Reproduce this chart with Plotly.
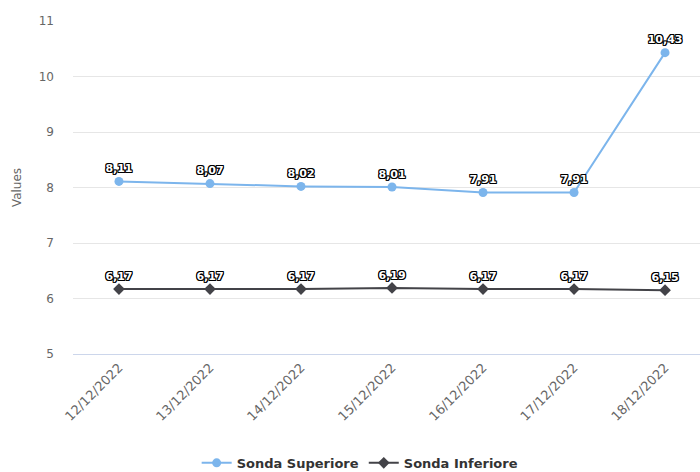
import plotly.graph_objects as go

dates = ["12/12/2022", "13/12/2022", "14/12/2022", "15/12/2022",
         "16/12/2022", "17/12/2022", "18/12/2022"]
sonda_superiore = [8.11, 8.07, 8.02, 8.01, 7.91, 7.91, 10.43]
sonda_inferiore = [6.17, 6.17, 6.17, 6.19, 6.17, 6.17, 6.15]

FONT = "DejaVu Sans, Verdana, sans-serif"
outline = ("1px 1px 0 #000, -1px -1px 0 #000, 1px -1px 0 #000, -1px 1px 0 #000, "
           "0 1px 0 #000, 0 -1px 0 #000, 1px 0 0 #000, -1px 0 0 #000")

fig = go.Figure()
fig.add_trace(go.Scatter(
    x=dates, y=sonda_superiore, name="Sonda Superiore",
    mode="lines+markers+text",
    line=dict(color="#7cb5ec", width=2),
    marker=dict(symbol="circle", size=9, color="#7cb5ec"),
    texttemplate="%{y:.2f}", textposition="top center",
    textfont=dict(family=FONT, size=11, color="#ffffff", weight="bold", shadow=outline),
    cliponaxis=False,
))
fig.add_trace(go.Scatter(
    x=dates, y=sonda_inferiore, name="Sonda Inferiore",
    mode="lines+markers+text",
    line=dict(color="#434348", width=2),
    marker=dict(symbol="diamond", size=9, color="#434348"),
    texttemplate="%{y:.2f}", textposition="top center",
    textfont=dict(family=FONT, size=11, color="#ffffff", weight="bold", shadow=outline),
    cliponaxis=False,
))

fig.update_layout(
    width=700, height=472,
    margin=dict(l=73, r=0, t=21, b=118, autoexpand=False),
    paper_bgcolor="white", plot_bgcolor="white",
    separators=",.",
    font=dict(family=FONT, color="#666666", size=12),
    showlegend=True,
    legend=dict(orientation="h", x=0.458, xanchor="center", y=-0.327, yanchor="middle",
                font=dict(family=FONT, size=13, color="#333333", weight="bold"),
                itemwidth=30),
    hovermode=False,
)
fig.update_xaxes(
    type="category", range=[-0.505, 6.384], automargin=False,
    tickangle=-45, showgrid=False, showline=True, linecolor="#ccd6eb", linewidth=1,
    ticks="", tickfont=dict(size=13, color="#666666"), zeroline=False,
)
fig.update_yaxes(
    range=[5, 11], dtick=1, showgrid=True, gridcolor="#e6e6e6", gridwidth=1,
    zeroline=False, showline=False, ticks="", ticklabelstandoff=18, automargin=False,
    tickfont=dict(size=12, color="#666666"),
    title=dict(text="Values", font=dict(size=12, color="#666666"), standoff=14),
)
fig.write_html("out.html", config={"displayModeBar": False},
               post_script="document.body.style.margin='0';document.body.style.overflow='hidden';")
